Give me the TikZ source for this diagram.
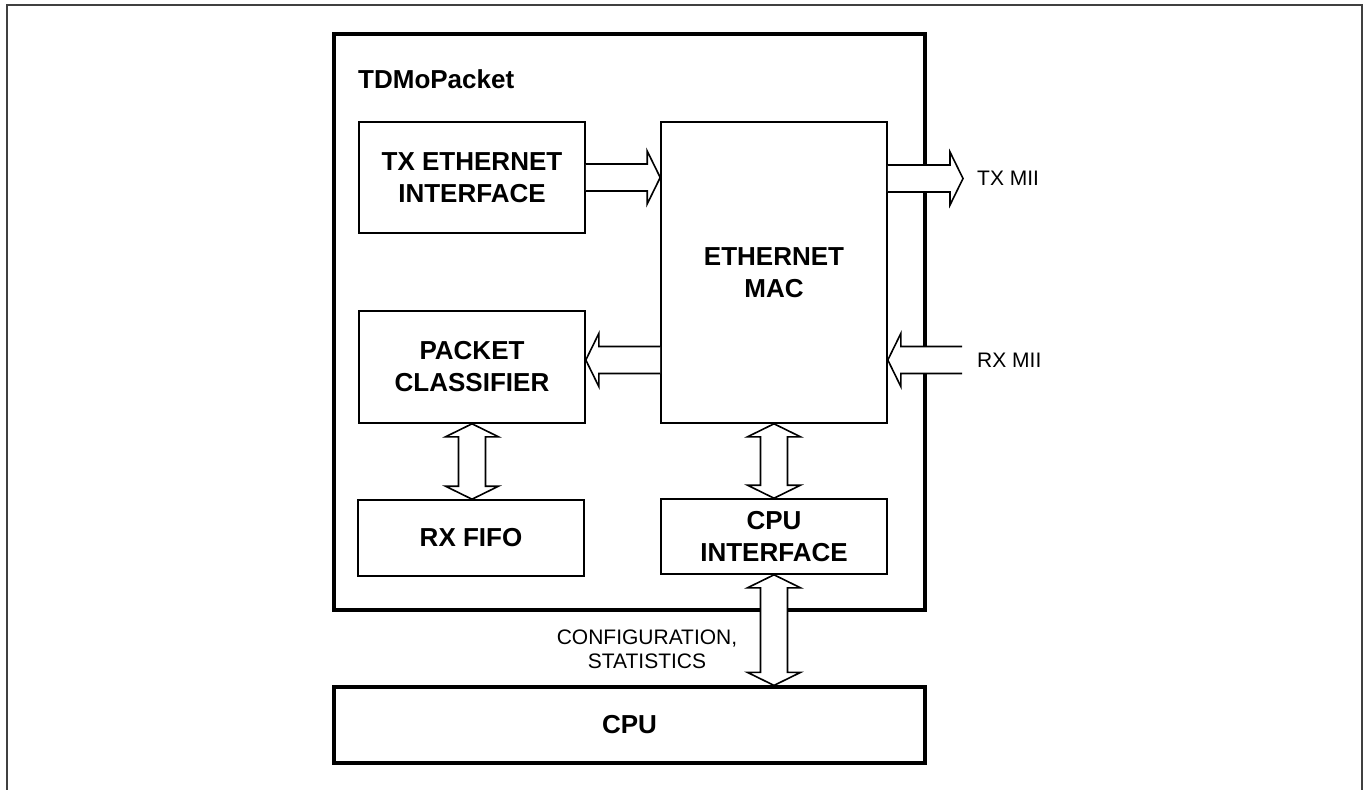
\documentclass[tikz,border=0pt]{standalone}
\usepackage{fontspec}
\setmainfont{Liberation Sans}
\usetikzlibrary{calc,positioning}

% horizontal block arrow, tail at #1, tip at #2
\newcommand{\hblock}[2]{%
  \draw[barrow] let \p1=(#1), \p2=(#2), \p3=($(#2)!13pt!(#1)$) in
    (\x1,\y1+13.5pt) -- (\x3,\y1+13.5pt) -- (\x3,\y1+26.5pt) -- (\x2,\y1)
    -- (\x3,\y1-26.5pt) -- (\x3,\y1-13.5pt) -- (\x1,\y1-13.5pt);}
% vertical block arrow with two heads, from #1 (top) to #2 (bottom)
\newcommand{\vblock}[2]{%
  \draw[barrow] let \p1=(#1), \p2=(#2), \p3=($(#1)!13pt!(#2)$), \p4=($(#2)!13pt!(#1)$) in
    (\x1,\y1) -- (\x1+26.5pt,\y3) -- (\x1+13.5pt,\y3) -- (\x1+13.5pt,\y4)
    -- (\x1+26.5pt,\y4) -- (\x1,\y2) -- (\x1-26.5pt,\y4) -- (\x1-13.5pt,\y4)
    -- (\x1-13.5pt,\y3) -- (\x1-26.5pt,\y3) -- cycle;}

\begin{document}
\begin{tikzpicture}[x=1pt, y=-1pt,
    blk/.style={draw, line width=1.6pt, minimum width=226pt, align=center,
      font=\fontsize{26}{32}\selectfont\bfseries},
    heavy/.style={blk, line width=3.2pt},
    barrow/.style={draw, fill=white, line width=1.6pt, line join=miter},
    lbl/.style={font=\fontsize{21}{24}\selectfont, align=center, inner sep=0pt},
    frame/.style={draw=black!75, line width=1.4pt}]
\useasboundingbox (0,0) rectangle (1364,789);
\draw[frame] (7,800) -- (7,5) -- (1362,5) -- (1362,800);

% outer block
\node[heavy, minimum width=591pt, minimum height=576pt] (tdmo) at (629.5,322) {};
\node[anchor=base west, inner sep=0pt, font=\fontsize{26}{32}\selectfont\bfseries] (title) at (358,88.6) {TDMoPacket};

% inner blocks
\node[blk, minimum height=111pt] (tx) at (472,177.5) {TX ETHERNET\\INTERFACE};
\node[blk, minimum height=301pt] (mac) at (774,272.5) {ETHERNET\\MAC};
\node[blk, minimum height=112pt] (pc) at (472,367) {PACKET\\CLASSIFIER};
\node[blk, minimum height=76pt] (fifo) at (471,538) {RX FIFO};
\node[blk, minimum height=75pt] (cpuif) at (774,536.5) {CPU\\INTERFACE};
\node[heavy, minimum width=591pt, minimum height=76pt] (cpu) at (629.5,725) {CPU};

% MII side
\coordinate (txout) at (963,178.5);
\coordinate (rxin) at (962,360);
\node[lbl, right=14pt of txout] (txmii) {TX MII};
\node[lbl, right=15pt of rxin] (rxmii) {RX MII};
\node[lbl] (cfg) at (647,649) {CONFIGURATION,\\STATISTICS};

% arrows
\hblock{tx.east}{tx.east -| mac.west}
\hblock{mac.east |- txout}{txout}
\hblock{rxin}{rxin -| mac.east}
\hblock{rxin -| mac.west}{rxin -| pc.east}
\vblock{pc.south}{fifo.north}
\vblock{mac.south}{cpuif.north}
\vblock{cpuif.south}{cpuif.south |- cpu.north}
\end{tikzpicture}
\end{document}
